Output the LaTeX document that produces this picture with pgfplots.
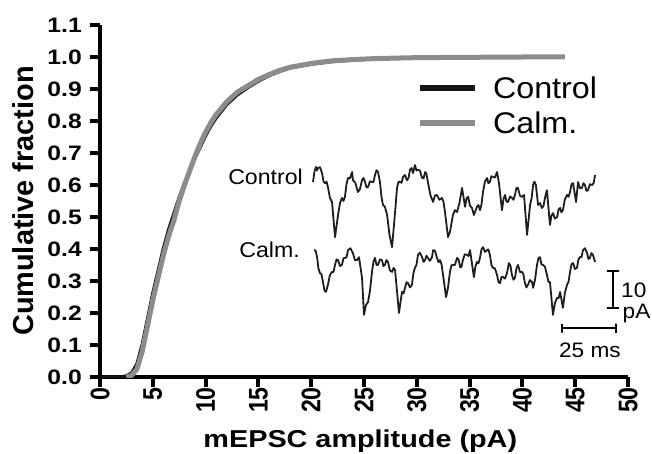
\documentclass[border=0pt]{standalone}
\usepackage{fontspec}
\setmainfont{Liberation Sans}
\newfontfamily\widefont[FakeStretch=1.18]{Liberation Sans}
\newfontfamily\midfont[FakeStretch=1.08]{Liberation Sans}
\newfontfamily\narrowfont[FakeStretch=0.86]{Liberation Sans}
\usepackage{pgfplots}
\pgfplotsset{compat=1.18}
\definecolor{ctrl}{RGB}{20,20,20}
\definecolor{calm}{RGB}{140,140,140}
\definecolor{trace}{RGB}{30,30,30}

\begin{document}
\begin{tikzpicture}
% cumulative distributions
\begin{axis}[
    at={(0,0)}, anchor=south west,
    scale only axis, width=528bp, height=352bp,
    xmin=0, xmax=50, ymin=0, ymax=1.1,
    axis x line*=bottom, axis y line*=left,
    axis line style={-, line width=4bp},
    tick align=outside, major tick length=10bp,
    tick style={line width=4bp, black},
    xtick={0,5,10,15,20,25,30,35,40,45,50},
    xticklabels={0,5,10,15,20,25,30,35,40,45,50},
    ytick={0,0.1,0.2,0.3,0.4,0.5,0.6,0.7,0.8,0.9,1.0,1.1},
    yticklabels={0.0,0.1,0.2,0.3,0.4,0.5,0.6,0.7,0.8,0.9,1.0,1.1},
    xticklabel style={font=\narrowfont\bfseries\fontsize{27}{27}\selectfont, rotate=90, anchor=east, inner sep=0pt},
    yticklabel style={font=\widefont\bfseries\fontsize{21}{21}\selectfont, anchor=east, inner sep=0pt, xshift=-8bp},
    xlabel={mEPSC amplitude (pA)},
    xlabel style={at={(axis description cs:0.493,-0.2)}, anchor=base, inner sep=0pt,
        font=\widefont\bfseries\fontsize{24.5}{24.5}\selectfont},
    ylabel={Cumulative fraction},
    ylabel style={at={(axis description cs:-0.125,0.5)}, anchor=base, inner sep=0pt,
        font=\bfseries\fontsize{29}{29}\selectfont},
    legend style={at={(rel axis cs:0.6,0.86)}, anchor=north west, draw=none, fill=none,
        inner sep=0pt, font=\midfont\fontsize{30}{30}\selectfont, row sep=8bp,
        column sep=13bp, nodes={inner sep=2bp}},
    legend cell align=left,
    legend image code/.code={\draw[#1, line width=6bp] (0bp,0bp) -- (55bp,0bp);},
]
\addplot[ctrl, line width=3.5bp, line join=round] coordinates {
  (0,0) (2,0) (2.5,0.003) (3,0.012) (3.5,0.04) (4,0.1) (4.5,0.18) (5,0.26)
  (5.5,0.33) (6,0.4) (6.5,0.46) (7,0.51) (7.5,0.56) (8,0.605) (8.5,0.645)
  (9,0.685) (9.5,0.72) (10,0.755) (10.5,0.785) (11,0.81) (12,0.852)
  (13,0.882) (14,0.905) (15,0.925) (16,0.942) (17,0.955) (18,0.966)
  (20,0.978) (22,0.986) (24,0.991) (26,0.995) (30,0.998) (35,0.999)
  (40,1) (44,1)
};
\addplot[calm, line width=5bp, line join=round] coordinates {
  (2.5,0) (3,0.005) (3.5,0.025) (4,0.08) (4.5,0.16) (5,0.24) (5.5,0.31)
  (6,0.38) (6.5,0.44) (7,0.49) (7.5,0.55) (8,0.6) (8.5,0.645) (9,0.69)
  (9.5,0.73) (10,0.765) (10.5,0.795) (11,0.82) (12,0.86) (13,0.89)
  (14,0.91) (15,0.93) (16,0.945) (17,0.958) (18,0.968) (20,0.98)
  (22,0.988) (24,0.992) (26,0.995) (30,0.998) (35,0.999) (40,1) (44,1)
};
\legend{Control, Calm.}
\end{axis}

% example traces, time in ms, current in pA
\begin{axis}[
    at={(213bp,35.5bp)}, anchor=south west,
    x=2.16bp, y=3.7bp,
    xmin=0, xmax=150, ymin=-45, ymax=5,
    hide axis, clip=false,
]
\addplot[trace, line width=1.8bp, line join=round] coordinates {
  (0,-1.9) (0.7,1.0) (1.4,2.2) (1.85,1.2) (2.3,1.9) (3.25,2.1) (4.2,0.5)
  (4.9,-1.8) (5.6,-2.2) (6.25,-1.8) (6.9,-3.2) (7.85,-6.2) (8.8,-7.3)
  (10.2,-16.8) (11.6,-10.8) (12.5,-7.6) (13.4,-6.2) (14.1,-7.0) (14.8,-5.9)
  (15.5,-2.5) (16.2,-0.8) (17.1,-0.9) (18.1,0.8) (18.5,-1.4) (19.6,-2.1)
  (20.8,-4.6) (21.7,-3.9) (22.7,-1.4) (23.4,-0.8) (24.1,-1.9) (24.8,-3.4)
  (25.5,-3.2) (26.4,-1.7) (27.3,-1.9) (28.0,-1.9) (28.7,0) (29.4,1.3)
  (30.1,0.8) (31.0,-1.9) (31.7,-5.9) (32.4,-8.1) (33.3,-8.6) (34.3,-10.8)
  (35.4,-16.1) (36.6,-19.5) (38.0,-10.0) (38.9,-3.5) (39.6,-1.8) (40.3,-1.9)
  (41.0,-2.1) (41.7,-0.5) (42.6,0) (43.5,-1.4) (44.2,-0.9) (44.9,1.4)
  (45.6,1.9) (46.3,0.5) (47.2,2.7) (47.9,1.2) (48.6,1.4) (49.5,1.2)
  (50.5,-0.8) (51.2,-0.9) (51.9,0.8) (52.5,0.4) (53.2,-1.9) (54.4,-5.5)
  (55.6,-7.3) (56.5,-5.5) (57.4,-5.4) (58.5,-6.7) (59.7,-6.2) (60.4,-7.2)
  (61.1,-10.0) (62.5,-16.8) (63.4,-15.4) (64.8,-10.8) (65.7,-9.5) (66.7,-10.0)
  (67.8,-7.6) (69.0,-3.5) (70.4,-8.6) (71.1,-6.3) (71.8,-5.9) (72.7,-8.3)
  (73.6,-8.9) (74.5,-10.8) (75.9,-8.6) (76.6,-8.1) (77.3,-9.5) (78.0,-8.0)
  (78.7,-4.6) (79.6,-1.8) (80.6,-0.8) (81.2,-2.2) (81.9,-1.9) (82.6,-0.3)
  (83.3,-0.5) (84.2,-0.7) (85.2,0.8) (86.1,-2.2) (87.5,-9.5) (88.2,-6.5)
  (88.9,-5.4) (89.6,-7.2) (90.3,-7.3) (91.2,-5.8) (92.1,-6.2) (92.8,-6.7)
  (93.5,-5.4) (94.2,-3.5) (94.9,-3.5) (95.8,-5.6) (96.8,-5.9) (97.7,-5.4)
  (99.1,-16.2) (100.5,-8.1) (101.2,-6.3) (101.9,-2.7) (102.5,-1.8) (103.2,-2.7)
  (104.2,-8.1) (105.1,-7.6) (106.0,-8.9) (106.7,-8.4) (107.4,-6.2) (108.3,-4.1)
  (109.7,-13.5) (110.4,-11.0) (111.1,-10.3) (112.0,-11.8) (113.0,-11.4)
  (113.7,-9.3) (114.4,-8.9) (115.0,-10.1) (115.7,-9.5) (116.6,-6.6) (117.6,-5.4)
  (118.3,-5.9) (119.0,-4.6) (119.7,-2.5) (120.4,-2.2) (121.8,-7.3) (122.7,-1.9)
  (123.6,-3.6) (124.5,-3.5) (125.2,-2.2) (125.9,-2.7) (126.6,-4.3) (127.3,-4.1)
  (128.2,-2.5) (129.2,-2.7) (129.9,-2.2) (130.6,0)
};
\addplot[trace, line width=1.8bp, line join=round] coordinates {
  (0.5,-20.3) (1.2,-20.4) (1.9,-22.2) (2.5,-25.2) (3.2,-26.5) (3.9,-26.8)
  (4.6,-28.9) (5.3,-31.2) (6.0,-31.6) (6.9,-29.7) (7.8,-27.1) (8.8,-26.2)
  (9.5,-26.2) (10.2,-24.3) (10.9,-22.8) (11.6,-23.0) (12.5,-24.6) (13.4,-24.3)
  (14.1,-22.5) (14.8,-22.4) (15.5,-22.3) (16.2,-20.3) (17.3,-19.8) (18.5,-21.1)
  (19.4,-23.0) (20.4,-23.0) (21.3,-22.2) (22.7,-27.8) (23.6,-37.8) (24.5,-35.2)
  (25.5,-34.3) (26.4,-31.2) (27.3,-26.2) (28.0,-23.4) (28.7,-22.4) (29.4,-24.3)
  (30.1,-24.3) (31.0,-22.8) (31.9,-23.0) (32.6,-24.6) (33.3,-24.3) (34.0,-23.0)
  (34.7,-23.5) (35.6,-25.8) (36.6,-26.2) (37.3,-25.1) (38.0,-25.7) (39.8,-37.3)
  (41.2,-31.6) (41.9,-32.0) (42.6,-30.5) (43.3,-29.0) (44.0,-29.2) (44.9,-30.4)
  (45.8,-29.7) (46.5,-26.5) (47.2,-25.1) (47.9,-24.3) (48.6,-21.6) (49.5,-21.0)
  (50.5,-22.2) (51.2,-23.5) (51.9,-23.0) (52.5,-21.8) (53.2,-22.4) (54.1,-23.2)
  (55.1,-22.2) (55.6,-20.3) (56.5,-20.5) (57.4,-22.4) (58.1,-23.6) (58.8,-23.0)
  (59.5,-24.1) (60.2,-27.0) (61.6,-33.0) (62.5,-30.5) (63.4,-26.2) (64.1,-24.4)
  (64.8,-24.3) (65.7,-24.3) (66.7,-22.4) (67.4,-22.8) (68.1,-24.9) (68.7,-24.9)
  (69.4,-23.0) (70.3,-21.4) (71.3,-21.6) (72.0,-21.9) (72.7,-20.3) (74.5,-27.6)
  (75.2,-24.7) (75.9,-23.5) (76.6,-23.9) (77.3,-22.4) (78.0,-20.1) (78.7,-19.5)
  (79.6,-20.8) (80.6,-20.3) (81.2,-20.1) (81.9,-21.6) (82.6,-24.3) (83.3,-25.1)
  (84.2,-25.2) (85.2,-27.0) (85.9,-29.0) (86.6,-29.2) (87.3,-27.5) (88.0,-27.6)
  (88.9,-28.0) (89.8,-26.5) (90.7,-23.8) (91.4,-24.5) (92.1,-27.0) (92.8,-28.3)
  (93.5,-27.8) (94.2,-25.2) (94.9,-24.3) (95.8,-26.2) (96.8,-26.2) (97.4,-26.8)
  (98.1,-29.2) (98.8,-30.4) (99.5,-29.7) (100.4,-28.4) (101.4,-28.9) (101.9,-30.5)
  (102.8,-28.3) (103.7,-24.3) (104.4,-22.4) (105.1,-22.2) (105.8,-24.2)
  (106.5,-24.3) (107.4,-24.8) (108.3,-27.0) (109.0,-28.9) (109.7,-28.9)
  (111.1,-37.8) (112.0,-34.6) (113.0,-33.2) (113.7,-33.3) (114.4,-31.6)
  (115.7,-35.9) (116.6,-31.9) (117.6,-29.7) (118.3,-28.9) (119.0,-26.2)
  (119.7,-24.1) (120.4,-23.8) (121.3,-25.4) (122.2,-25.1) (122.9,-22.8)
  (123.6,-22.2) (124.3,-22.2) (125.0,-20.3) (125.9,-19.8) (126.9,-21.1)
  (127.5,-22.7) (128.2,-22.4) (128.9,-21.1) (129.6,-21.6) (130.6,-23.5)
};
% scale bars: 10 pA and 25 ms
\addplot[black, line width=2.5bp] coordinates {
  (136.1,-25.9) (141.7,-25.9) (138.9,-25.9) (138.9,-35.9) (136.1,-35.9) (141.7,-35.9)
};
\addplot[black, line width=2.5bp] coordinates {
  (115.3,-40.2) (115.3,-42.6) (115.3,-41.4) (140.3,-41.4) (140.3,-40.2) (140.3,-42.6)
};
\node[anchor=base east, inner sep=0pt, font=\midfont\fontsize{21.5}{21.5}\selectfont] at (axis cs:-4.6,-2.7) {Control};
\node[anchor=base east, inner sep=0pt, font=\midfont\fontsize{21.5}{21.5}\selectfont] at (axis cs:-6.0,-22.2) {Calm.};
\node[anchor=base west, inner sep=0pt, font=\midfont\fontsize{21}{21}\selectfont] at (axis cs:142.6,-33.2) {10};
\node[anchor=base west, inner sep=0pt, font=\midfont\fontsize{21}{21}\selectfont] at (axis cs:143.3,-38.9) {pA};
\node[anchor=base, inner sep=0pt, font=\midfont\fontsize{21}{21}\selectfont] at (axis cs:128.2,-49.2) {25 ms};
\end{axis}
\pgfresetboundingbox
\path[use as bounding box] (-100bp,-77bp) rectangle (552bp,377bp);
\end{tikzpicture}
\end{document}
